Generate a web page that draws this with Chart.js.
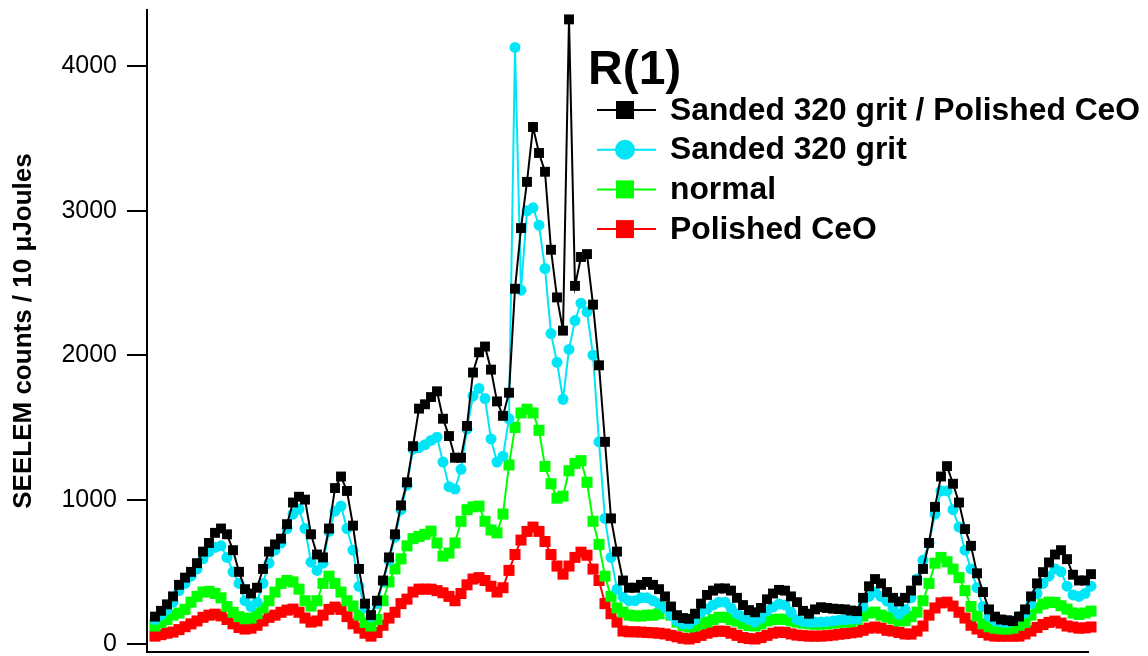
<!DOCTYPE html>
<html>
<head>
<meta charset="utf-8">
<script src="https://cdn.jsdelivr.net/npm/chart.js@4/dist/chart.umd.min.js"></script>
<style>
  html, body { margin: 0; padding: 0; background: #fff; }
  #chart { display: block; }
</style>
</head>
<body>
<canvas id="chart" width="1148" height="656"></canvas>
<script>
// sample channel (one per scan step)
const channels = Array.from({ length: 157 }, (_, i) => i);

const sandedPolished = [
  190, 230, 275, 330, 410, 460, 500, 560, 640, 700,
  770, 800, 760, 650, 500, 380, 350, 390, 520, 640,
  690, 730, 830, 980, 1020, 1000, 760, 620, 600, 800,
  1080, 1160, 1060, 820, 520, 280, 200, 300, 440, 600,
  760, 960, 1120, 1370, 1630, 1660, 1710, 1750, 1560, 1440,
  1290, 1290, 1510, 1880, 2020, 2060, 1900, 1680, 1580, 1740,
  2460, 2880, 3200, 3580, 3400, 3270, 2730, 2400, 2170, 4325,
  2480, 2680, 2700, 2350, 1930, 1400, 870, 640, 440, 390,
  390, 410, 430, 410, 380, 330, 260, 200, 180, 175,
  210, 280, 340, 370, 385, 385, 370, 320, 270, 235,
  220, 250, 310, 350, 375, 370, 330, 290, 230, 210,
  240, 255, 250, 245, 242, 240, 232, 228, 320, 400,
  450, 420, 360, 320, 295, 320, 370, 440, 520, 700,
  950, 1160, 1232, 1110, 980, 796, 680, 490, 360, 240,
  190, 170, 165, 159, 190, 240, 330, 420, 498, 565,
  620, 650, 588, 480, 440, 440, 484
];

const sanded = [
  170, 200, 240, 290, 370, 420, 470, 520, 590, 640,
  670, 680, 600, 500, 420, 300, 260, 290, 420, 560,
  650, 700, 800, 900, 935, 800, 567, 510, 560, 780,
  920, 955, 800, 650, 400, 250, 190, 280, 430, 580,
  740, 930, 1100, 1349, 1360, 1380, 1410, 1432, 1260, 1090,
  1073, 1210, 1488, 1716, 1770, 1700, 1420, 1260, 1301, 1560,
  4131, 2450, 3000, 3020, 2900, 2600, 2150, 1951, 1695, 2040,
  2240, 2360, 2300, 2000, 1400, 870, 600, 380, 325, 300,
  300, 320, 320, 300, 280, 250, 200, 159, 140, 138,
  170, 220, 242, 270, 290, 290, 250, 210, 190, 170,
  152, 180, 230, 256, 277, 270, 220, 170, 155, 150,
  152, 152, 155, 160, 165, 170, 172, 173, 260, 330,
  360, 330, 297, 250, 207, 240, 320, 450, 580, 700,
  900, 1060, 1060, 930, 810, 650, 520, 390, 260, 190,
  160, 152, 150, 160, 190, 215, 280, 350, 420, 470,
  520, 500, 401, 340, 330, 350, 401
];

const normal = [
  125, 150, 170, 200, 215, 240, 290, 330, 360, 365,
  350, 320, 260, 220, 190, 175, 180, 210, 250, 300,
  360, 420, 440, 430, 380, 300, 263, 300, 420, 470,
  420, 360, 300, 263, 200, 150, 125, 170, 300, 430,
  520, 590, 680, 730, 745, 760, 782, 700, 609, 630,
  700, 850, 930, 950, 955, 850, 790, 770, 900, 1240,
  1500, 1600, 1626, 1600, 1480, 1230, 1110, 1010, 1024, 1200,
  1250, 1270, 1120, 850, 690, 470, 330, 250, 221, 200,
  195, 194, 200, 200, 210, 256, 200, 152, 130, 118,
  125, 140, 152, 170, 185, 185, 170, 159, 140, 128,
  125, 140, 160, 170, 173, 170, 160, 152, 145, 140,
  138, 138, 140, 145, 150, 152, 155, 170, 194, 215,
  221, 200, 187, 175, 160, 162, 190, 221, 300, 420,
  560, 600, 570, 519, 460, 370, 260, 194, 140, 120,
  110, 105, 104, 110, 130, 150, 200, 250, 277, 290,
  288, 265, 242, 215, 205, 215, 228
];

const polished = [
  55, 65, 75, 83, 100, 120, 140, 160, 185, 200,
  207, 195, 170, 140, 115, 104, 110, 130, 160, 185,
  200, 220, 235, 242, 220, 180, 152, 160, 200, 240,
  256, 240, 190, 140, 110, 75, 55, 80, 130, 180,
  220, 280, 311, 360, 380, 380, 380, 370, 355, 330,
  300, 350, 410, 450, 460, 440, 400, 360, 390, 510,
  620, 720, 780, 810, 780, 710, 620, 540, 484, 540,
  600, 636, 615, 519, 440, 280, 210, 152, 90, 85,
  85, 83, 80, 78, 75, 70, 60, 50, 40, 35,
  45, 60, 75, 85, 90, 88, 75, 60, 45, 38,
  35, 45, 60, 75, 83, 80, 70, 62, 58, 55,
  55, 55, 58, 62, 68, 72, 78, 83, 95, 110,
  118, 110, 95, 90, 80, 70, 69, 90, 125, 200,
  250, 285, 290, 263, 220, 180, 130, 104, 80, 62,
  55, 55, 55, 55, 55, 70, 90, 115, 135, 150,
  159, 145, 125, 118, 110, 112, 118
];

const yTicks = [0, 1000, 2000, 3000, 4000];
const seriesLabels = ['Sanded 320 grit / Polished CeO', 'Sanded 320 grit', 'normal', 'Polished CeO'];
const legendTitle = 'R(1)';
const yTitle = 'SEELEM counts / 10 \u03BCJoules';

const FONT = '"Liberation Sans", Arial, Helvetica, sans-serif';

function makeSet(label, data, color, style, radius) {
    return {
        label: label,
        data: data,
        borderColor: color,
        backgroundColor: color,
        borderWidth: 2,
        pointStyle: style,
        pointRadius: radius,
        pointBorderWidth: 0,
        pointBackgroundColor: color,
        tension: 0,
        clip: false
    };
}

// bottom axis line (the x scale itself is hidden, it has no ticks)
const bottomAxis = {
    id: 'bottomAxis',
    beforeDatasetsDraw(chart) {
        const { ctx, chartArea } = chart;
        ctx.save();
        ctx.strokeStyle = '#000';
        ctx.lineWidth = 2;
        ctx.beginPath();
        ctx.moveTo(chartArea.left - 1, chartArea.bottom);
        ctx.lineTo(chartArea.right, chartArea.bottom);
        ctx.stroke();
        ctx.restore();
    }
};

// legend drawn Igor-style inside the plot area
const igorLegend = {
    id: 'igorLegend',
    afterDatasetsDraw(chart) {
        const ctx = chart.ctx;
        ctx.save();
        ctx.fillStyle = '#000';
        ctx.textAlign = 'left';
        ctx.textBaseline = 'alphabetic';
        ctx.font = 'bold 48px ' + FONT;
        ctx.fillText(legendTitle, 588, 84);

        ctx.font = 'bold 31.8px ' + FONT;
        ctx.textBaseline = 'middle';
        chart.data.datasets.forEach((ds, i) => {
            const y = 110 + i * 39.7;
            ctx.strokeStyle = ds.borderColor;
            ctx.lineWidth = 2;
            ctx.beginPath();
            ctx.moveTo(597, y);
            ctx.lineTo(656, y);
            ctx.stroke();
            ctx.fillStyle = ds.borderColor;
            if (ds.pointStyle === 'circle') {
                ctx.beginPath();
                ctx.arc(625, y, 10, 0, Math.PI * 2);
                ctx.fill();
            } else {
                ctx.fillRect(616, y - 9, 18, 18);
            }
            ctx.fillStyle = '#000';
            ctx.fillText(ds.label, 670, y + 1);
        });
        ctx.restore();
    }
};

new Chart(document.getElementById('chart'), {
    type: 'line',
    data: {
        labels: channels,
        datasets: [
            makeSet(seriesLabels[0], sandedPolished, '#000000', 'rect', 7),
            makeSet(seriesLabels[1], sanded, '#00e6f6', 'circle', 5.5),
            makeSet(seriesLabels[2], normal, '#00ff00', 'rect', 7.8),
            makeSet(seriesLabels[3], polished, '#ff0000', 'rect', 7.8)
        ]
    },
    options: {
        responsive: false,
        animation: false,
        devicePixelRatio: 1,
        layout: {
            autoPadding: false,
            padding: { top: 10, right: 59, bottom: 4, left: 0 }
        },
        plugins: {
            legend: { display: false },
            tooltip: { enabled: false }
        },
        scales: {
            x: {
                type: 'linear',
                display: false,
                min: -1.333,
                max: 155.667
            },
            y: {
                min: -55,
                max: 4390,
                afterBuildTicks: (scale) => {
                    scale.ticks = yTicks.map(v => ({ value: v }));
                },
                ticks: {
                    color: '#000',
                    padding: 10,
                    font: { family: FONT, size: 25 },
                    callback: (v) => String(v)
                },
                grid: {
                    drawOnChartArea: false,
                    color: '#000',
                    lineWidth: 2,
                    tickLength: 20
                },
                border: { display: true, color: '#000', width: 2 },
                title: {
                    display: true,
                    text: yTitle,
                    color: '#000',
                    font: { family: FONT, size: 26, weight: 'bold' },
                    padding: { top: 8, bottom: 0 }
                },
                afterFit: (scale) => {
                    scale.width = 147;
                    scale.paddingTop = 0;
                    scale.paddingBottom = 0;
                }
            }
        }
    },
    plugins: [bottomAxis, igorLegend]
});
</script>
</body>
</html>
